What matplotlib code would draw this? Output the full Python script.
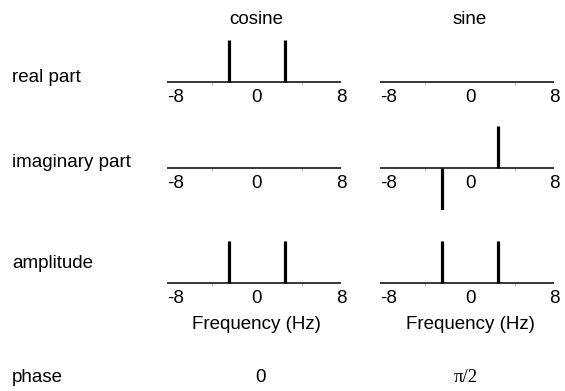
import matplotlib
matplotlib.use("Agg")
import matplotlib.pyplot as plt

plt.rcParams['font.family'] = ['Liberation Sans', 'DejaVu Sans']

# ---- data ----
columns = ["cosine", "sine"]
row_labels = ["real part", "imaginary part", "amplitude", "phase"]
freq_range = [-8, 7.5]          # extent of frequency axis (Hz)
stem_freqs = [-2.5, 2.5]        # frequencies of the spectral lines (Hz)
cos_real = [1, 1]
cos_imag = [0, 0]
cos_amp = [1, 1]
sin_real = [0, 0]
sin_imag = [-1, 1]
sin_amp = [1, 1]
phase_labels = ["0", "\u03c0/2"]
tick_vals = [-8, 0, 8]
tick_labels = ["-8", "0", "8"]
minor_ticks = [-4, 0, 4]

W, H = 565, 391
fig = plt.figure(figsize=(W / 100, H / 100), dpi=100)

FS = 13.5
col_left_px = [166.7, 380.0]
ax_w_px = 180.0
baselines_px = [81.7, 168.0, 283.3]
half_h = 42.0

series = [[cos_real, cos_imag, cos_amp], [sin_real, sin_imag, sin_amp]]

for c in range(2):
    for r in range(3):
        b = baselines_px[r]
        ax = fig.add_axes([col_left_px[c] / W, (H - (b + half_h)) / H,
                           ax_w_px / W, 2 * half_h / H])
        ax.set_xlim(-8, 8)
        ax.set_ylim(-1, 1)
        for s in ax.spines.values():
            s.set_visible(False)
        ax.spines['bottom'].set_position(('data', 0))
        ax.hlines(0, freq_range[0], freq_range[1], color='black', lw=1.1)
        ax.vlines(stem_freqs, 0, series[c][r], color='black', lw=2.3,
                  capstyle='butt')
        ax.set_yticks([])
        ax.set_xticks(tick_vals)
        labs = ax.set_xticklabels(tick_labels, fontsize=FS)
        labs[0].set_ha('left')
        labs[-1].set_ha('right')
        ax.tick_params(axis='x', which='major', length=0, pad=5)
        ax.set_xticks(minor_ticks, minor=True)
        ax.tick_params(axis='x', which='minor', length=2, color='#bbbbbb', width=0.8)
        if r == 2:
            ax.text(0, -0.98, "Frequency (Hz)", fontsize=FS, ha='center',
                    va='center', transform=ax.transData)

# column titles
for c, name in enumerate(columns):
    x0 = (col_left_px[c] + ax_w_px / 2) / W
    fig.text(x0, 1 - 20 / H, name, ha='center', va='center', fontsize=FS)

# row labels
row_y_px = [78, 163, 263, 378]
for lab, y in zip(row_labels, row_y_px):
    fig.text(12 / W, 1 - y / H, lab, ha='left', va='center', fontsize=FS)

# phase values
phase_x_px = [260, 466]
fig.text(phase_x_px[0] / W, 1 - 378 / H, phase_labels[0], ha='center',
         va='center', fontsize=FS)
fig.text(phase_x_px[1] / W, 1 - 378 / H, phase_labels[1], ha='center',
         va='center', fontsize=FS, family=['Liberation Serif', 'DejaVu Serif'])

fig.savefig("out.png", dpi=100)
